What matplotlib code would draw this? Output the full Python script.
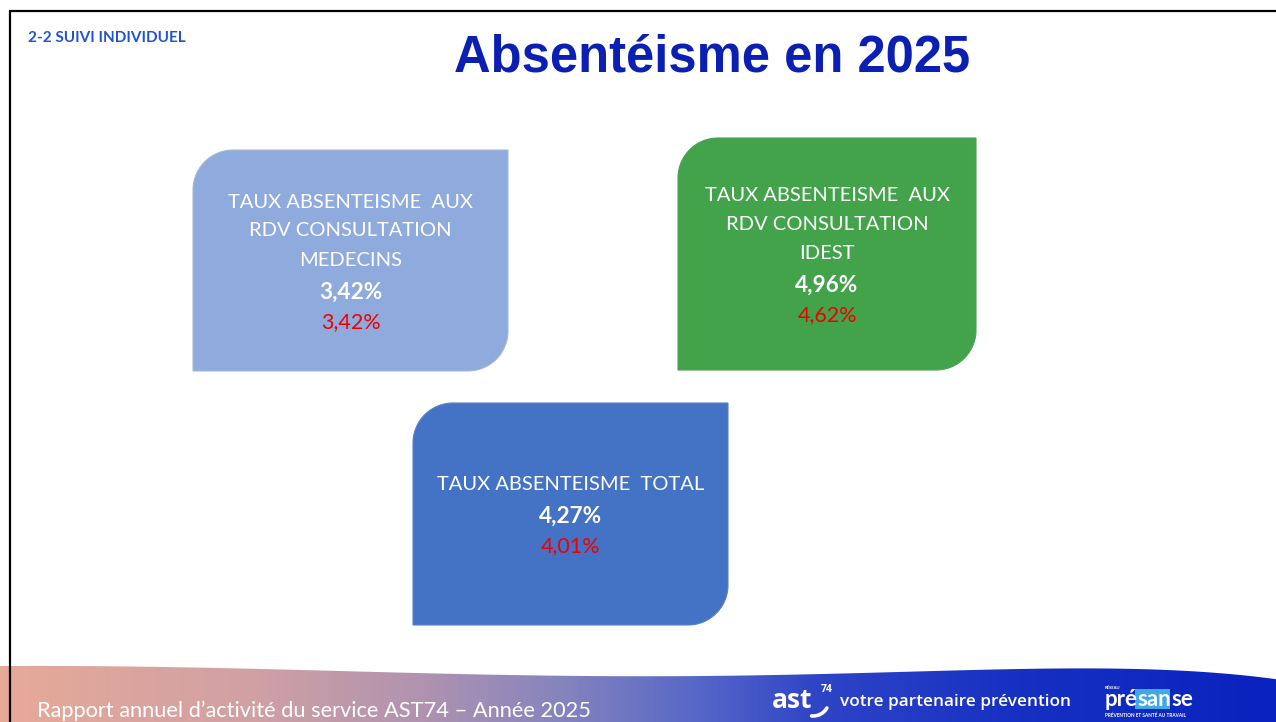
import matplotlib.pyplot as plt
import numpy as np
from matplotlib.colors import LinearSegmentedColormap
from matplotlib.patches import Polygon, Rectangle

W, H = 1276, 722

section_label = '2-2 SUIVI INDIVIDUEL'
page_title = 'Absentéisme en 2025'
footer_text = 'Rapport annuel d\u2019activité du service AST74 \u2013 Année 2025'

box_titles = [
	['TAUX ABSENTEISME  AUX', 'RDV CONSULTATION', 'MEDECINS'],
	['TAUX ABSENTEISME  AUX', 'RDV CONSULTATION', 'IDEST'],
	['TAUX ABSENTEISME  TOTAL'],
]
taux_2025 = [3.42, 4.96, 4.27]
taux_prev = [3.42, 4.62, 4.01]
box_colors = ['#8FAADC', '#43A34B', '#4472C4']
box_edges = ['#A9B9D6', '#4E9F55', '#5A80C4']


def fmt_pct(v):
	return f'{v:.2f}'.replace('.', ',') + '%'


def diag_round_box(x0, y0, x1, y1, r, n=40):
	"""Rectangle with rounded top-left and bottom-right corners (y axis down)."""
	t = np.linspace(0, np.pi / 2, n)
	pts = [(x1, y0), (x1, y1 - r)]
	pts += list(zip(x1 - r + r * np.cos(t), y1 - r + r * np.sin(t)))
	pts += [(x0, y1), (x0, y0 + r)]
	pts += list(zip(x0 + r - r * np.cos(t), y0 + r - r * np.sin(t)))
	return pts


fig = plt.figure(figsize=(W / 100, H / 100), dpi=100)
ax = fig.add_axes([0, 0, 1, 1])
ax.set_xlim(0, W)
ax.set_ylim(H, 0)
ax.axis('off')

# footer band with colour gradient
xs = np.linspace(0, W, 300)
knots_x = np.array([0, 200, 400, 600, 740, 860, 1000, 1150, 1276])
knots_y = np.array([666, 668, 672, 676, 677, 672, 669, 670, 679])
coef = np.polyfit(knots_x, knots_y, 5)
top_edge = np.polyval(coef, xs)
band_pts = list(zip(xs, top_edge)) + [(W, H), (0, H)]
band = Polygon(band_pts, closed=True, facecolor='none', edgecolor='none')
ax.add_patch(band)
grad_cmap = LinearSegmentedColormap.from_list('footer', [
	(0.0, '#E6AA98'), (0.2, '#D0A0A4'), (0.33, '#B093B0'), (0.44, '#8584BE'),
	(0.55, '#5566C8'), (0.64, '#2F44C6'), (0.8, '#1630C2'), (1.0, '#0A22BE'),
])
grad = np.linspace(0, 1, 512).reshape(1, -1)
im = ax.imshow(grad, cmap=grad_cmap, aspect='auto', extent=[0, W, H, 660], zorder=1)
im.set_clip_path(band)

# slide border
ax.plot([10, 10], [11, H], color='black', lw=1.6, zorder=5, solid_capstyle='butt')
ax.plot([9.2, W], [11, 11], color='black', lw=1.6, zorder=5, solid_capstyle='butt')

ax.text(28, 38, section_label, fontsize=11, fontweight='bold', color='#1F52D4',
	family='Lato', ha='left', va='center')
ax.text(712, 58, page_title, fontsize=36.5, fontweight='bold', color='#0B1FB3',
	family='Liberation Sans', ha='center', va='center')

boxes = [(193, 150, 508, 371), (678, 138, 976, 370), (413, 403, 728, 625)]
for (x0, y0, x1, y1), title, v_now, v_prev, fc, ec in zip(
		boxes, box_titles, taux_2025, taux_prev, box_colors, box_edges):
	ax.add_patch(Polygon(diag_round_box(x0, y0, x1, y1, 40), closed=True,
		facecolor=fc, edgecolor=ec, lw=0.8, zorder=3))
	cx = (x0 + x1) / 2
	offsets = [29 * i for i in range(len(title))]
	offsets.append(offsets[-1] + 32)
	offsets.append(offsets[-1] + 30)
	start = (y0 + y1) / 2 - offsets[-1] / 2 + 1.5
	for line, off in zip(title, offsets):
		ax.text(cx, start + off, line, fontsize=14.5, color='white', family='Lato',
			ha='center', va='center', zorder=4)
	ax.text(cx, start + offsets[-2], fmt_pct(v_now), fontsize=16.3, fontweight='bold',
		color='white', family='Lato', ha='center', va='center', zorder=4)
	ax.text(cx, start + offsets[-1], fmt_pct(v_prev), fontsize=15.5, color='#EE0000',
		family='Lato', ha='center', va='center', zorder=4)

# footer texts and logos
ax.text(37, 711, footer_text, fontsize=15.7, color='white', family='Lato',
	ha='left', va='center', zorder=4)
ax.text(772, 700, 'ast', fontsize=19, fontweight='bold', color='white',
	family='Open Sans', ha='left', va='center', zorder=4)
ax.text(821, 690, '74', fontsize=7.5, fontweight='bold', color='white',
	family='Open Sans', ha='left', va='center', zorder=4)
arc_t = np.radians(np.linspace(95, 30, 30))
ax.plot(813 + 16 * np.cos(arc_t), 700 + 16 * np.sin(arc_t), color='white',
	lw=2.6, zorder=4, solid_capstyle='round')
ax.text(840, 702, 'votre partenaire prévention', fontsize=12.4, fontweight='semibold',
	color='white', family='Open Sans', ha='left', va='center', zorder=4)

ax.add_patch(Rectangle((1135, 689), 35, 20, facecolor='#3FA9E6', edgecolor='none', zorder=4))
ax.text(1105, 700, 'pré', fontsize=16, fontweight='bold', color='white',
	family='Lato', ha='left', va='center', zorder=5)
ax.text(1137, 700, 'san', fontsize=16, fontweight='bold', color='white',
	family='Lato', ha='left', va='center', zorder=5)
ax.text(1171, 700, 'se', fontsize=16, fontweight='bold', color='white',
	family='Lato', ha='left', va='center', zorder=5)
ax.text(1105, 688, 'RÉSEAU', fontsize=3, fontweight='bold', color='white',
	family='Lato', ha='left', va='center', zorder=5)
ax.text(1105, 715, 'PRÉVENTION ET SANTÉ AU TRAVAIL', fontsize=3.4, fontweight='bold',
	color='white', family='Lato', ha='left', va='center', zorder=5)

fig.savefig('out.png', dpi=100)
